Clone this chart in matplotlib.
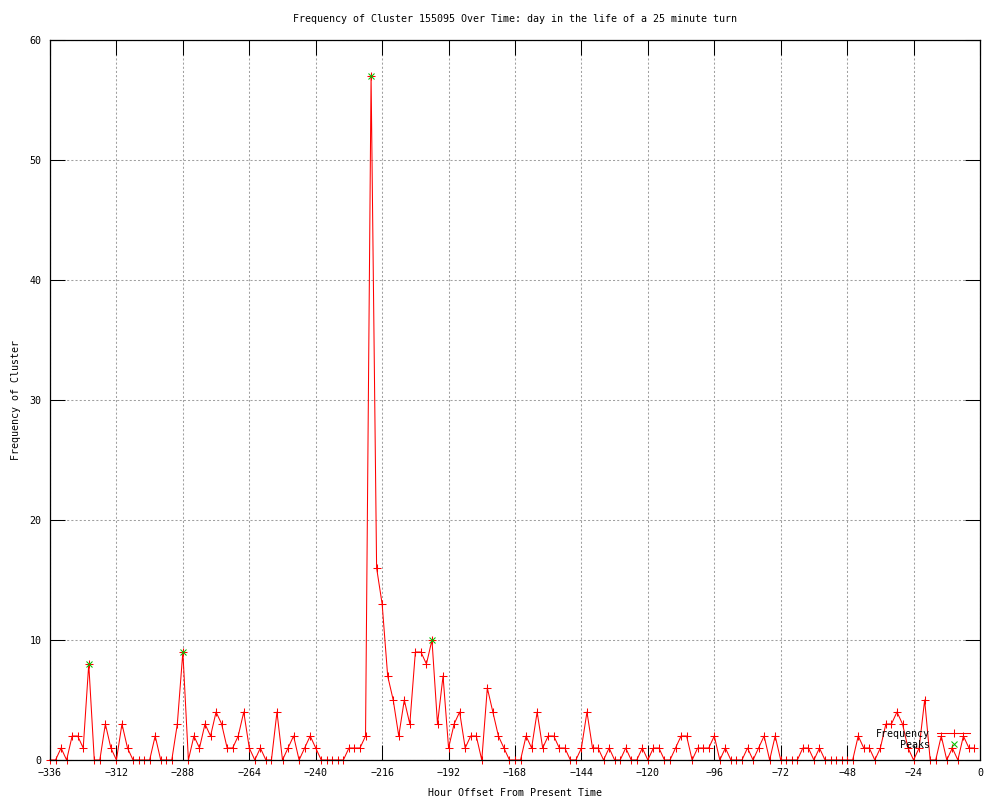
import numpy as np
import matplotlib
matplotlib.use("Agg")
import matplotlib.pyplot as plt

# counts per 2-hour bin, starting at hour -336 (one row = 48 hours)
counts = [
    0, 0, 1, 0, 2, 2, 1, 8, 0, 0, 3, 1, 0, 3, 1, 0, 0, 0, 0, 2, 0, 0, 0, 3,
    9, 0, 2, 1, 3, 2, 4, 3, 1, 1, 2, 4, 1, 0, 1, 0, 0, 4, 0, 1, 2, 0, 1, 2,
    1, 0, 0, 0, 0, 0, 1, 1, 1, 2, 57, 16, 13, 7, 5, 2, 5, 3, 9, 9, 8, 10, 3, 7,
    1, 3, 4, 1, 2, 2, 0, 6, 4, 2, 1, 0, 0, 0, 2, 1, 4, 1, 2, 2, 1, 1, 0, 0,
    1, 4, 1, 1, 0, 1, 0, 0, 1, 0, 0, 1, 0, 1, 1, 0, 0, 1, 2, 2, 0, 1, 1, 1,
    2, 0, 1, 0, 0, 0, 1, 0, 1, 2, 0, 2, 0, 0, 0, 0, 1, 1, 0, 1, 0, 0, 0, 0,
    0, 0, 2, 1, 1, 0, 1, 3, 3, 4, 3, 1, 0, 1, 5, 0, 0, 2, 0, 1, 0, 2, 1, 1,
]
hours = np.arange(-336, -336 + 2 * len(counts), 2)

peak_hours = [-322, -288, -220, -198]
peak_counts = [8, 9, 57, 10]

x_ticks = list(range(-336, 1, 24))
y_ticks = list(range(0, 61, 10))

TITLE = "Frequency of Cluster 155095 Over Time: day in the life of a 25 minute turn"
FONT = "DejaVu Sans Mono"
FS = 7.2

plt.rcParams["font.family"] = FONT
plt.rcParams["font.size"] = FS

fig = plt.figure(figsize=(10, 8), dpi=100)
ax = fig.add_axes([0.05, 0.05, 0.93, 0.90])

ax.plot(hours, counts, color="#ff0000", lw=0.75, marker="+", ms=6, mew=0.75,
        clip_on=False, label="Frequency")
ax.plot(peak_hours, peak_counts, ls="none", color="#00c000", marker="x", ms=4.5,
        mew=0.75, clip_on=False, label="    Peaks")

ax.set_xlim(-336, 0)
ax.set_ylim(0, 60)
ax.set_xticks(x_ticks)
ax.set_yticks(y_ticks)
ax.tick_params(direction="in", length=11, width=0.75, top=True, right=True,
               labelsize=FS, colors="black")
ax.tick_params(axis="x", pad=6)
ax.tick_params(axis="y", pad=6)
for s in ax.spines.values():
    s.set_linewidth(0.9)

ax.grid(True, color="#a0a0a0", lw=0.75, ls=(0, (2, 2)))
ax.set_axisbelow(True)

ax.set_title(TITLE, fontsize=FS, pad=13)
ax.set_xlabel("Hour Offset From Present Time", fontsize=FS, labelpad=7)
ax.set_ylabel("Frequency of Cluster", fontsize=FS, labelpad=6)

ax.legend(loc="center right", bbox_to_anchor=(0.989, 0.0285), frameon=False,
          markerfirst=False, numpoints=1, handlelength=3.25, handletextpad=0.7,
          labelspacing=0.1, borderpad=0, borderaxespad=0, fontsize=FS)

fig.savefig("out.png", dpi=100)
